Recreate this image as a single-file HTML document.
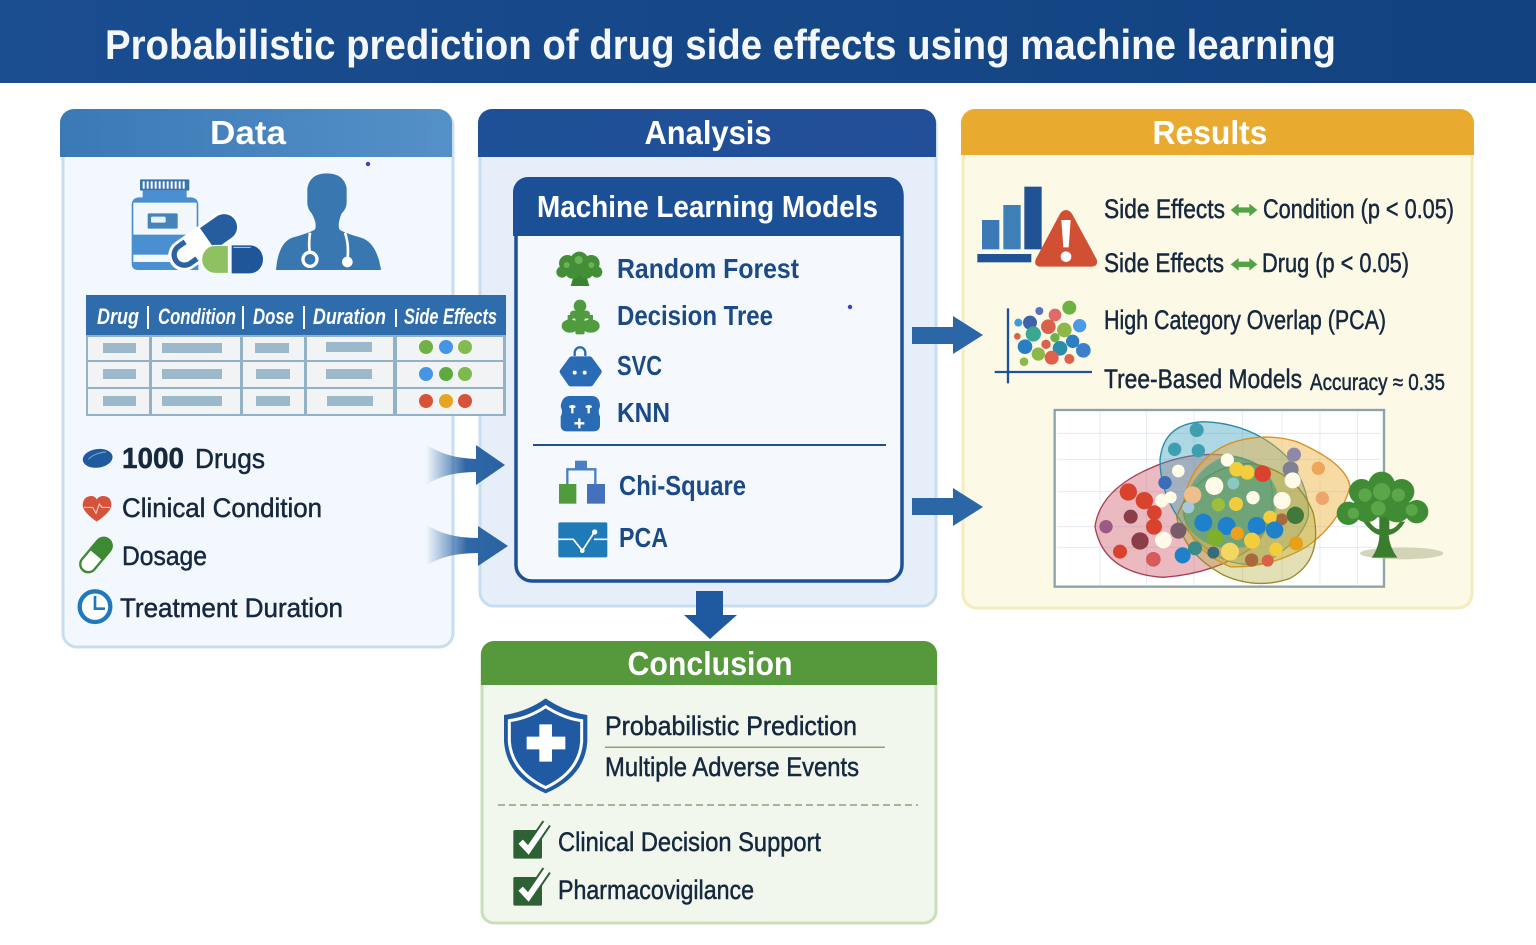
<!DOCTYPE html>
<html><head><meta charset="utf-8"><title>Probabilistic prediction of drug side effects using machine learning</title>
<style>
html,body{margin:0;padding:0;background:#fff;width:1536px;height:945px;overflow:hidden}
svg{display:block}
text{font-family:"Liberation Sans",sans-serif}
.b{font-size:27px;fill:#16283e;stroke:#16283e;stroke-width:.5}
.m{font-size:28px;font-weight:bold;fill:#1b4a86}
.h{font-size:33px;font-weight:bold;fill:#fff}
.t{font-size:22px;font-weight:bold;fill:#fff;font-style:italic}
</style></head><body>
<svg width="1536" height="945" viewBox="0 0 1536 945" xmlns="http://www.w3.org/2000/svg">
<defs>
<linearGradient id="top" x1="0" x2="1" y1="0" y2="0"><stop offset="0" stop-color="#1a4d90"/><stop offset="1" stop-color="#12427f"/></linearGradient>
<linearGradient id="dh" x1="0" x2="1" y1="0" y2="0"><stop offset="0" stop-color="#3a79b6"/><stop offset="1" stop-color="#5590c8"/></linearGradient>
<linearGradient id="ah" x1="0" x2="1" y1="0" y2="0"><stop offset="0" stop-color="#1d5096"/><stop offset="1" stop-color="#234f99"/></linearGradient>
<linearGradient id="arr" x1="0" x2="1" y1="0" y2="0"><stop offset="0" stop-color="#2f68a6" stop-opacity="0"/><stop offset=".5" stop-color="#2f68a6"/><stop offset="1" stop-color="#2a62a2"/></linearGradient>
</defs>

<rect width="1536" height="945" fill="#fff"/>
<!-- Title -->
<rect x="0" y="0" width="1536" height="83" fill="url(#top)"/>
<text x="105" y="59" font-size="42" font-weight="bold" fill="#f4f8fc" textLength="1231" lengthAdjust="spacingAndGlyphs">Probabilistic prediction of drug side effects using machine learning</text>

<!-- Data panel -->
<rect x="63" y="112" width="390" height="535" rx="14" fill="#f3f8fe" stroke="#c8deef" stroke-width="3"/>
<path d="M60 157V123a14 14 0 0 1 14-14H438a14 14 0 0 1 14 14V157Z" fill="url(#dh)"/>
<text x="248" y="144" text-anchor="middle" class="h" textLength="76" lengthAdjust="spacingAndGlyphs">Data</text>
<circle cx="368" cy="164" r="2.2" fill="#3d3fc8"/>

<!-- bottle & pills -->
<g transform="translate(60 160) scale(.33333)">
<rect x="240" y="58" width="148" height="34" rx="3" fill="#3a74ad"/>
<g fill="#fff"><rect x="248" y="64" width="6" height="22"/><rect x="260" y="64" width="6" height="22"/><rect x="272" y="64" width="6" height="22"/><rect x="284" y="64" width="6" height="22"/><rect x="296" y="64" width="6" height="22"/><rect x="308" y="64" width="6" height="22"/><rect x="320" y="64" width="6" height="22"/><rect x="332" y="64" width="6" height="22"/><rect x="344" y="64" width="6" height="22"/><rect x="356" y="64" width="6" height="22"/><rect x="368" y="64" width="6" height="22"/></g>
<path d="M248 92H380V112H395Q415 115 415 135V330H235Q215 330 215 310V135Q215 115 235 112H248Z" fill="#4a8fd0"/>
<rect x="220" y="128" width="190" height="96" fill="#f2f7fc"/>
<rect x="220" y="284" width="120" height="22" fill="#f2f7fc"/>
<rect x="263" y="160" width="90" height="46" rx="4" fill="#4583bd"/>
<rect x="273" y="170" width="44" height="18" rx="4" fill="#eaf2f9"/>
<g transform="rotate(-35 430 245)">
<rect x="312" y="198" width="240" height="94" rx="47" fill="#fff"/>
<path d="M445 206H506a39 39 0 0 1 0 78H445Z" fill="#255d9f"/>
<path d="M385 206H361a39 39 0 0 0 0 78H385V268H361a23 23 0 0 1 0-46H385Z" fill="#2a62a2"/>
</g>
<path d="M505 256H465a40 42 0 0 0 0 84H505Z" fill="#8fc163" stroke="#fff" stroke-width="3"/>
<path d="M515 256H570a39 42 0 0 1 0 84H515Z" fill="#1f5599"/>
<path d="M520 262H572" stroke="#fff" stroke-width="3" opacity=".7"/>
</g>
<!-- doctor -->
<g transform="translate(60 160) scale(.33333)">
<path d="M648 330Q655 245 700 232Q750 218 765 208Q772 190 755 160Q740 145 742 120V85Q750 40 800 40Q852 40 860 85V120Q862 145 845 160Q832 190 838 208Q850 218 900 232Q950 245 963 330Z" fill="#3877b0"/>
<path d="M750 218Q745 255 750 280M855 218Q868 255 862 300" fill="none" stroke="#fff" stroke-width="8"/>
<circle cx="750" cy="298" r="21" fill="#3877b0" stroke="#fff" stroke-width="10"/>
<circle cx="862" cy="306" r="16" fill="#fff"/>
</g>

<!-- Data list -->
<g transform="translate(60 430) scale(.33333)">
<ellipse cx="113" cy="85" rx="45" ry="28" fill="#1f5a9f" transform="rotate(-8 113 85)"/>
<path d="M85 88Q105 68 138 66" stroke="#7ba9d6" stroke-width="3" fill="none"/>
<path d="M110 275Q68 245 68 225Q70 198 95 198Q105 198 110 208Q118 198 128 198Q154 198 154 225Q154 245 110 275Z" fill="#d5533a"/>
<path d="M72 232H98L108 250L118 222L126 232H150" stroke="#f8d8cc" stroke-width="3" fill="none"/>
<g transform="rotate(-50 108 375)">
<rect x="48" y="351" width="120" height="48" rx="24" fill="#fff" stroke="#3e8a34" stroke-width="7"/>
<path d="M108 348H144a27 27 0 0 1 0 54H108Z" fill="#3e8a34"/>
</g>
<circle cx="105" cy="530" r="46" fill="#fff" stroke="#2179bd" stroke-width="13"/>
<path d="M105 498V536H135" stroke="#2179bd" stroke-width="8" fill="none"/>
</g>
<text x="122" y="468" class="b" style="font-size:29px;font-weight:bold" textLength="62" lengthAdjust="spacingAndGlyphs">1000</text>
<text x="195" y="468" class="b" style="font-size:28px" textLength="70" lengthAdjust="spacingAndGlyphs">Drugs</text>
<text x="122" y="517" class="b" textLength="200" lengthAdjust="spacingAndGlyphs">Clinical Condition</text>
<text x="122" y="565" class="b" textLength="85" lengthAdjust="spacingAndGlyphs">Dosage</text>
<text x="120" y="617" class="b" textLength="223" lengthAdjust="spacingAndGlyphs">Treatment Duration</text>

<!-- Analysis panel -->
<rect x="480" y="112" width="456" height="494" rx="14" fill="#e5eef9" stroke="#c8deef" stroke-width="3"/>
<path d="M478 157V123a14 14 0 0 1 14-14H922a14 14 0 0 1 14 14V157Z" fill="url(#ah)"/>
<text x="708" y="144" text-anchor="middle" class="h" textLength="127" lengthAdjust="spacingAndGlyphs">Analysis</text>

<rect x="516" y="179" width="386" height="402" rx="16" fill="#f5f9fe" stroke="#1c5196" stroke-width="3.5"/>
<path d="M513 236V192a15 15 0 0 1 15-15H888a15 15 0 0 1 15 15V236Z" fill="#1c5096"/>
<text x="537" y="217" font-size="31" font-weight="bold" fill="#fff" textLength="341" lengthAdjust="spacingAndGlyphs">Machine Learning Models</text>

<!-- Table (drawn over analysis panel edge) -->
<rect x="86" y="334" width="420" height="82" fill="#92b3c7"/>
<rect x="86" y="295" width="420" height="40" fill="#2f6cab"/>
<text x="97" y="324" class="t" textLength="42" lengthAdjust="spacingAndGlyphs">Drug</text>
<text x="158" y="324" class="t" textLength="78" lengthAdjust="spacingAndGlyphs">Condition</text>
<text x="253" y="324" class="t" textLength="41" lengthAdjust="spacingAndGlyphs">Dose</text>
<text x="313" y="324" class="t" textLength="73" lengthAdjust="spacingAndGlyphs">Duration</text>
<text x="404" y="324" class="t" textLength="93" lengthAdjust="spacingAndGlyphs">Side Effects</text>
<path d="M148 306V329M243 306V329M304 306V329M396 309V327" stroke="#fff" stroke-width="2"/>
<g fill="#f2f3f4">
<rect x="88" y="337" width="61" height="23"/><rect x="152" y="337" width="88" height="23"/><rect x="243" y="337" width="61" height="23"/><rect x="307" y="337" width="86" height="23"/><rect x="397" y="337" width="106" height="23"/>
<rect x="88" y="362" width="61" height="25"/><rect x="152" y="362" width="88" height="25"/><rect x="243" y="362" width="61" height="25"/><rect x="307" y="362" width="86" height="25"/><rect x="397" y="362" width="106" height="25"/>
<rect x="88" y="389" width="61" height="25"/><rect x="152" y="389" width="88" height="25"/><rect x="243" y="389" width="61" height="25"/><rect x="307" y="389" width="86" height="25"/><rect x="397" y="389" width="106" height="25"/>
</g>
<g fill="#9cb9cc">
<rect x="103" y="343" width="33" height="10"/><rect x="162" y="343" width="60" height="10"/><rect x="255" y="343" width="34" height="10"/><rect x="326" y="342" width="46" height="10"/>
<rect x="103" y="369" width="33" height="10"/><rect x="162" y="369" width="60" height="10"/><rect x="256" y="369" width="34" height="10"/><rect x="326" y="369" width="46" height="10"/>
<rect x="103" y="396" width="33" height="10"/><rect x="162" y="396" width="60" height="10"/><rect x="256" y="396" width="34" height="10"/><rect x="327" y="396" width="46" height="10"/>
</g>
<g>
<circle cx="426" cy="347" r="7" fill="#6fb244"/><circle cx="446" cy="347" r="7" fill="#4595e6"/><circle cx="465" cy="347" r="7" fill="#82bb50"/>
<circle cx="426" cy="374" r="7" fill="#4595e6"/><circle cx="446" cy="374" r="7" fill="#5dab3f"/><circle cx="465" cy="374" r="7" fill="#7dba4d"/>
<circle cx="426" cy="401" r="7" fill="#d6533a"/><circle cx="446" cy="401" r="7" fill="#e5a522"/><circle cx="465" cy="401" r="7" fill="#d6533a"/>
</g>

<!-- model icons -->
<g transform="translate(520 240) scale(.33333)">
<path d="M152 138L165 95H195L208 138Z" fill="#3a8431"/>
<g fill="#438f37"><circle cx="178" cy="62" r="27"/><circle cx="142" cy="70" r="25"/><circle cx="214" cy="70" r="25"/><circle cx="126" cy="96" r="17"/><circle cx="230" cy="96" r="17"/><circle cx="158" cy="92" r="24"/><circle cx="198" cy="92" r="24"/></g>
<circle cx="176" cy="60" r="12" fill="#6bb255"/><circle cx="140" cy="75" r="9" fill="#6bb255"/><circle cx="214" cy="75" r="9" fill="#6bb255"/>
<g fill="#4f9b3d"><circle cx="180" cy="198" r="19"/><rect x="150" y="212" width="60" height="24" rx="10"/><rect x="166" y="215" width="28" height="68" rx="6"/><ellipse cx="150" cy="258" rx="25" ry="20"/><ellipse cx="212" cy="258" rx="27" ry="20"/><rect x="143" y="225" width="14" height="30"/><rect x="205" y="225" width="14" height="30"/></g>
<path d="M128 395L155 358H209L236 395L212 430H152Z" fill="#2a6bb5" stroke="#2a6bb5" stroke-width="18" stroke-linejoin="round"/>
<path d="M164 348V338a16 16 0 0 1 32 0V348" fill="none" stroke="#2a6bb5" stroke-width="7"/>
<circle cx="164" cy="398" r="6" fill="#fff"/><circle cx="194" cy="398" r="6" fill="#fff"/>
<path d="M122 500Q125 468 150 468H215Q240 468 240 500Q232 515 240 530V555Q240 574 220 574H140Q122 574 122 555V530Q130 515 122 500Z" fill="#2a6bb5"/>
<path d="M157 495V520M206 495V520M148 500H166M197 500H215M178 535V565M163 550H193" stroke="#fff" stroke-width="7"/>
<rect x="165" y="662" width="36" height="24" fill="#4a7fc4"/>
<path d="M142 732V688H226V732" fill="none" stroke="#4a7fc4" stroke-width="7"/>
<rect x="117" y="732" width="52" height="59" fill="#4f9b3d"/>
<rect x="201" y="732" width="54" height="59" fill="#4570bb"/>
<rect x="115" y="847" width="147" height="105" rx="5" fill="#1f7ab8"/>
<path d="M115 898H160L187 932L222 878M222 898H262" fill="none" stroke="#fff" stroke-width="5"/>
<circle cx="187" cy="932" r="7" fill="#fff"/><circle cx="224" cy="876" r="8" fill="#fff"/>
</g>
<text x="617" y="278" class="m" textLength="182" lengthAdjust="spacingAndGlyphs">Random Forest</text>
<text x="617" y="325" class="m" textLength="156" lengthAdjust="spacingAndGlyphs">Decision Tree</text>
<text x="617" y="375" class="m" textLength="45" lengthAdjust="spacingAndGlyphs">SVC</text>
<text x="617" y="422" class="m" textLength="53" lengthAdjust="spacingAndGlyphs">KNN</text>
<rect x="533" y="444" width="353" height="2" fill="#1c5196"/>
<text x="619" y="495" class="m" textLength="127" lengthAdjust="spacingAndGlyphs">Chi-Square</text>
<text x="619" y="547" class="m" textLength="49" lengthAdjust="spacingAndGlyphs">PCA</text>
<circle cx="850" cy="307" r="2.2" fill="#3d3fc8"/>

<!-- Data→Analysis arrows -->
<path d="M426 444Q445 458 476 459V445L505 465L476 485V472Q445 472 426 485Z" fill="url(#arr)"/>
<path d="M426 524Q445 538 478 538V526L508 546L478 566V553Q445 553 426 566Z" fill="url(#arr)"/>

<!-- Results panel -->
<rect x="963" y="112" width="509" height="496" rx="14" fill="#fdf9e7" stroke="#f5ebbd" stroke-width="3"/>
<path d="M961 155V123a14 14 0 0 1 14-14H1460a14 14 0 0 1 14 14V155Z" fill="#e8ab30"/>
<text x="1210" y="144" text-anchor="middle" class="h" textLength="115" lengthAdjust="spacingAndGlyphs">Results</text>

<!-- right arrows -->
<path d="M912 327H953V316L983 335L953 354V344H912Z" fill="#2b66a6"/>
<path d="M912 498H953V488L983 507L953 526V515H912Z" fill="#2b66a6"/>
<!-- down arrow -->
<path d="M696 591H723V615H737L710 639L684 615H696Z" fill="#1f5aa0"/>

<!-- Results graphics -->
<g transform="translate(970 170) scale(.33333)">
<rect x="36" y="150" width="52" height="88" fill="#3b7ab6"/>
<rect x="100" y="105" width="52" height="133" fill="#3f7fb8"/>
<rect x="163" y="50" width="52" height="188" fill="#1f5396"/>
<rect x="22" y="252" width="162" height="25" fill="#1f5396"/>
<path d="M288 120Q300 120 308 135L380 268Q386 290 362 290H215Q190 290 197 268L268 135Q276 120 288 120Z" fill="#d14f33"/>
<path d="M274 150H302L296 232H280Z" fill="#fff"/><circle cx="288" cy="260" r="16" fill="#fff"/>
<path d="M114 415V640" stroke="#1f5396" stroke-width="7"/>
<path d="M74 606H366" stroke="#1f5396" stroke-width="7"/>
<g>
<circle cx="298" cy="413" r="21" fill="#6fb244"/><circle cx="208" cy="423" r="12" fill="#5a6fc0"/><circle cx="255" cy="435" r="19" fill="#e06a6a"/><circle cx="145" cy="458" r="12" fill="#3a9be0"/><circle cx="180" cy="458" r="21" fill="#3d62a8"/><circle cx="329" cy="467" r="20" fill="#4a9ae5"/><circle cx="235" cy="470" r="22" fill="#d9604a"/><circle cx="283" cy="480" r="22" fill="#8cb84a"/><circle cx="190" cy="492" r="23" fill="#3aa890"/><circle cx="142" cy="499" r="10" fill="#d9604a"/><circle cx="165" cy="530" r="22" fill="#2a7fc2"/><circle cx="308" cy="514" r="20" fill="#2a7fc2"/><circle cx="255" cy="503" r="14" fill="#6fb244"/><circle cx="228" cy="523" r="14" fill="#d9604a"/><circle cx="270" cy="535" r="22" fill="#2a8eab"/><circle cx="340" cy="541" r="22" fill="#3d7fc8"/><circle cx="205" cy="552" r="20" fill="#8cb84a"/><circle cx="245" cy="563" r="21" fill="#e0604a"/><circle cx="298" cy="567" r="15" fill="#e0604a"/><circle cx="162" cy="575" r="13" fill="#8cb84a"/>
</g>
<!-- double arrows -->
<g fill="#52a346">
<path d="M782 120L806 101V112H838V101L862 120L838 139V128H806V139Z"/>
<path d="M782 283L806 264V275H838V264L862 283L838 302V291H806V302Z"/>
</g>
<!-- chart frame -->
<rect x="254" y="720" width="988" height="530" fill="#fff" stroke="#8ca4a8" stroke-width="7"/>
<path d="M390 725V1245M530 725V1245M672 725V1245M818 725V1245M936 725V1245M1050 725V1245M1162 725V1245M262 790H1232M262 868H1232M262 965H1232M262 1070H1232M262 1132H1232" stroke="#dde8f1" stroke-width="2.5"/>
<!-- blobs -->
<path d="M375 1070Q390 960 540 895Q650 845 760 855Q900 870 905 950Q920 1060 850 1130Q740 1210 580 1222Q400 1210 375 1070Z" fill="#cc5a6a" fill-opacity=".42" stroke="#a33f55" stroke-width="4"/>
<path d="M570 870Q580 760 700 755Q850 760 950 860Q1020 950 1015 1040Q990 1120 880 1180Q770 1200 680 1110Q570 1000 570 870Z" fill="#3c9fbc" fill-opacity=".42" stroke="#2a8aa8" stroke-width="4"/>
<path d="M640 1000Q660 870 780 820Q880 785 980 815Q1130 880 1140 950Q1110 1060 1010 1130Q900 1195 780 1190Q640 1130 640 1000Z" fill="#eeb13a" fill-opacity=".46" stroke="#d98f20" stroke-width="4"/>
<path d="M620 1040Q680 890 840 880Q980 900 1030 1030Q1060 1170 960 1225Q860 1260 760 1215Q640 1150 620 1040Z" fill="#b0a82f" fill-opacity=".36" stroke="#9a8a2a" stroke-width="4"/>
<path d="M640 1000Q680 880 780 855Q880 865 920 960Q930 1070 830 1130Q720 1150 660 1080Q630 1040 640 1000Z" fill="#2f9a88" fill-opacity=".55"/>
<!-- dots -->
<circle cx="680" cy="780" r="21" fill="#3f9eb0"/><circle cx="614" cy="838" r="20" fill="#3f9eb0"/><circle cx="685" cy="842" r="20" fill="#3f9eb0"/><circle cx="972" cy="854" r="21" fill="#8f88a8"/><circle cx="1045" cy="895" r="20" fill="#eda65a"/><circle cx="962" cy="898" r="24" fill="#7f7f95"/><circle cx="1057" cy="985" r="20" fill="#eda66a"/><circle cx="475" cy="966" r="26" fill="#d9432e"/><circle cx="523" cy="992" r="26" fill="#d9432e"/><circle cx="553" cy="1028" r="22" fill="#d9432e"/><circle cx="482" cy="1040" r="21" fill="#8a3f48"/><circle cx="408" cy="1070" r="20" fill="#9a5a88"/><circle cx="552" cy="1070" r="24" fill="#d9432e"/><circle cx="510" cy="1113" r="26" fill="#8a3f48"/><circle cx="450" cy="1145" r="21" fill="#d9432e"/><circle cx="550" cy="1168" r="22" fill="#d95a5a"/><circle cx="638" cy="1156" r="24" fill="#1f80cc"/><circle cx="625" cy="1082" r="24" fill="#7a5a6a"/><circle cx="585" cy="938" r="20" fill="#3b6db8"/><circle cx="625" cy="903" r="19" fill="#fffbe8"/><circle cx="575" cy="992" r="20" fill="#fffbe8"/><circle cx="602" cy="982" r="18" fill="#fffbe8"/><circle cx="580" cy="1110" r="25" fill="#fffbe8"/><circle cx="772" cy="870" r="20" fill="#fffbe8"/><circle cx="733" cy="948" r="27" fill="#fffbe8"/><circle cx="668" cy="975" r="26" fill="#edbf8c"/><circle cx="800" cy="898" r="22" fill="#f4cd3c"/><circle cx="832" cy="907" r="22" fill="#f4cd3c"/><circle cx="878" cy="911" r="25" fill="#d9432e"/><circle cx="968" cy="931" r="24" fill="#fffbe8"/><circle cx="849" cy="983" r="20" fill="#fffbe8"/><circle cx="936" cy="992" r="26" fill="#fffbe8"/><circle cx="798" cy="1002" r="21" fill="#f0cd3c"/><circle cx="745" cy="1004" r="20" fill="#9cbe3c"/><circle cx="976" cy="1036" r="26" fill="#3f7a3a"/><circle cx="935" cy="1048" r="18" fill="#a86a3a"/><circle cx="900" cy="1042" r="20" fill="#f4cd3c"/><circle cx="700" cy="1058" r="27" fill="#1f80cc"/><circle cx="770" cy="1068" r="27" fill="#1f80cc"/><circle cx="860" cy="1068" r="27" fill="#1f80cc"/><circle cx="914" cy="1080" r="26" fill="#1f80cc"/><circle cx="735" cy="1103" r="25" fill="#7fb02a"/><circle cx="802" cy="1090" r="20" fill="#eda020"/><circle cx="846" cy="1112" r="24" fill="#f4cd3c"/><circle cx="780" cy="1145" r="27" fill="#f4d760"/><circle cx="675" cy="1135" r="21" fill="#3b8a8a"/><circle cx="730" cy="1148" r="18" fill="#3b6a7a"/><circle cx="845" cy="1170" r="20" fill="#a86a3a"/><circle cx="893" cy="1172" r="18" fill="#d9604a"/><circle cx="978" cy="1120" r="21" fill="#e8a018"/><circle cx="918" cy="1138" r="20" fill="#f4cd3c"/><circle cx="655" cy="1012" r="18" fill="#a8c8d8"/><circle cx="790" cy="940" r="18" fill="#8ac8c0"/>
<!-- tree -->
<ellipse cx="1295" cy="1150" rx="125" ry="18" fill="#c4c7a4" opacity=".75"/>
<path d="M1205 1163Q1228 1130 1228 1095Q1205 1090 1180 1055H1198Q1215 1078 1228 1078V1040H1258V1078Q1275 1078 1290 1055H1305Q1285 1090 1256 1095Q1258 1130 1282 1163Z" fill="#3a7d2e"/>
<g fill="#3f8c34">
<circle cx="1235" cy="945" r="40"/><circle cx="1175" cy="965" r="38"/><circle cx="1295" cy="965" r="38"/><circle cx="1135" cy="1030" r="35"/><circle cx="1340" cy="1025" r="35"/><circle cx="1190" cy="1015" r="42"/><circle cx="1280" cy="1015" r="42"/><circle cx="1235" cy="995" r="48"/>
</g>
<g fill="#5aa648"><circle cx="1235" cy="965" r="26"/><circle cx="1185" cy="975" r="20"/><circle cx="1285" cy="975" r="20"/><circle cx="1150" cy="1030" r="17"/><circle cx="1325" cy="1020" r="18"/><circle cx="1225" cy="1015" r="22"/></g>
</g>

<!-- Results text -->
<text x="1104" y="218" class="b" textLength="121" lengthAdjust="spacingAndGlyphs">Side Effects</text>
<text x="1263" y="218" class="b" textLength="191" lengthAdjust="spacingAndGlyphs">Condition (p &lt; 0.05)</text>
<text x="1104" y="272" class="b" textLength="120" lengthAdjust="spacingAndGlyphs">Side Effects</text>
<text x="1262" y="272" class="b" textLength="147" lengthAdjust="spacingAndGlyphs">Drug (p &lt; 0.05)</text>
<text x="1104" y="329" class="b" textLength="282" lengthAdjust="spacingAndGlyphs">High Category Overlap (PCA)</text>
<text x="1104" y="388" class="b" textLength="198" lengthAdjust="spacingAndGlyphs">Tree-Based Models</text>
<text x="1310" y="390" class="b" style="font-size:23px" textLength="135" lengthAdjust="spacingAndGlyphs">Accuracy ≈ 0.35</text>

<!-- Conclusion -->
<rect x="482" y="643" width="454" height="280" rx="12" fill="#f1f7ec" stroke="#c9dfbb" stroke-width="3"/>
<path d="M481 685V654a13 13 0 0 1 13-13H924a13 13 0 0 1 13 13V685Z" fill="#55993c"/>
<text x="710" y="675" text-anchor="middle" class="h" textLength="165" lengthAdjust="spacingAndGlyphs">Conclusion</text>
<g transform="translate(490 690) scale(.33333)">
<path d="M167 25Q225 65 292 75V155Q285 260 167 310Q50 260 42 155V75Q110 65 167 25Z" fill="#1f5aa3"/>
<path d="M167 50Q220 85 275 92V155Q268 245 167 293Q66 245 58 155V92Q115 85 167 50Z" fill="none" stroke="#fff" stroke-width="9"/>
<path d="M148 103H186V140H226V178H186V215H148V178H110V140H148Z" fill="#fff"/>
<rect x="70" y="420" width="86" height="86" rx="5" fill="#2e6234"/>
<path d="M92 455L115 480L170 400" fill="none" stroke="#2e6234" stroke-width="30"/>
<path d="M92 455L115 480L170 400" fill="none" stroke="#fff" stroke-width="18"/>
<rect x="70" y="561" width="86" height="86" rx="5" fill="#2e6234"/>
<path d="M92 596L115 621L170 541" fill="none" stroke="#2e6234" stroke-width="30"/>
<path d="M92 596L115 621L170 541" fill="none" stroke="#fff" stroke-width="18"/>
</g>
<text x="605" y="735" class="b" textLength="252" lengthAdjust="spacingAndGlyphs">Probabilistic Prediction</text>
<rect x="605" y="746.500" width="280" height="1.500" fill="#85a97a"/>
<text x="605" y="776" class="b" textLength="254" lengthAdjust="spacingAndGlyphs">Multiple Adverse Events</text>
<path d="M498 805H918" stroke="#86a57c" stroke-width="1.500" stroke-dasharray="7 4"/>
<text x="558" y="851" class="b" textLength="263" lengthAdjust="spacingAndGlyphs">Clinical Decision Support</text>
<text x="558" y="899" class="b" textLength="196" lengthAdjust="spacingAndGlyphs">Pharmacovigilance</text>
</svg>
</body></html>
